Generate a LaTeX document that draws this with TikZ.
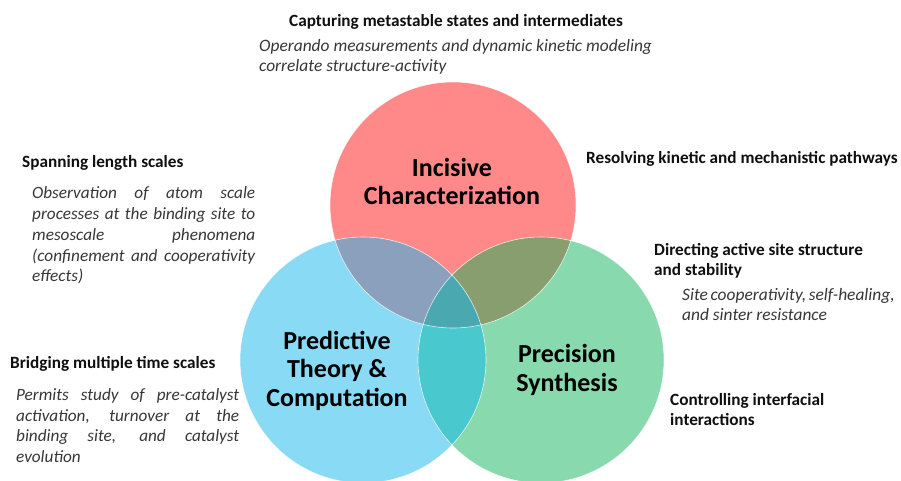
\documentclass[tikz,border=0pt]{standalone}
\usepackage{fontspec}
\setmainfont{Carlito}
\definecolor{cred}{RGB}{255,137,137}
\definecolor{cblue}{RGB}{137,218,245}
\definecolor{cgreen}{RGB}{137,217,174}
\definecolor{crb}{RGB}{138,160,188}
\definecolor{crg}{RGB}{137,158,110}
\definecolor{cbg}{RGB}{73,200,206}
\definecolor{crbg}{RGB}{73,168,176}
\definecolor{ctxt}{RGB}{15,15,15}
\definecolor{citl}{RGB}{55,55,55}
\newcommand{\jline}[1]{\makebox[223pt][s]{#1}}
\tikzset{
  head/.style={inner sep=0pt, font=\fontsize{17.2}{20}\selectfont\bfseries, text=ctxt, align=left},
  itl/.style={inner sep=0pt, font=\fontsize{17.4}{20}\selectfont\itshape, text=citl, align=left},
  itlone/.style={inner sep=0pt, font=\fontsize{17.4}{20}\selectfont\itshape, text=citl},
  para/.style={inner sep=0pt, font=\fontsize{17.2}{20.8}\selectfont\itshape, text=citl, align=left},
  big/.style={inner sep=0pt, font=\fontsize{26}{28.5}\selectfont\bfseries, text=black, align=center},
  ring/.style={draw=white, draw opacity=0.8, line width=0.6pt}
}
\begin{document}
\begin{tikzpicture}[x=1pt,y=-1pt]
\useasboundingbox (0,0) rectangle (901,480);
\fill[white] (0,0) rectangle (901,480);
\def\cR{(453,205) circle[radius=123pt]}
\def\cB{(363,360) circle[radius=123pt]}
\def\cG{(541,360) circle[radius=123pt]}
\begin{scope}
\clip (0,0) rectangle (901,480);
\fill[cred] \cR;
\fill[cblue] \cB;
\fill[cgreen] \cG;
\begin{scope}\clip \cR; \fill[crb] \cB; \end{scope}
\begin{scope}\clip \cR; \fill[crg] \cG; \end{scope}
\begin{scope}\clip \cB; \fill[cbg] \cG; \end{scope}
\begin{scope}\clip \cR; \clip \cB; \fill[crbg] \cG; \end{scope}
\draw[ring] \cR;
\draw[ring] \cB;
\draw[ring] \cG;
\end{scope}

\node[big, anchor=north] (ic) at (452,156) {\strut Incisive\\Characterization};
\node[big, anchor=north] (pt) at (337,329) {\strut Predictive\\Theory \&\\Computation};
\node[big, anchor=north] (ps) at (567,342.5) {\strut Precision\\Synthesis};

\node[head, anchor=base] (cap) at (456,26) {Capturing metastable states and intermediates};
\node[itl, anchor=north west] (op) at (259,37) {\strut Operando measurements and dynamic kinetic modeling\\correlate structure-activity};

\node[head, anchor=base west] (sp) at (22,167) {Spanning length scales};
\node[para, anchor=north west] (obs) at (32,184) {\strut\jline{Observation of atom scale}\\\jline{processes at the binding site to}\\\jline{mesoscale phenomena}\\\jline{(confinement and cooperativity}\\effects)};

\node[head, anchor=base west] (res) at (586,163) {Resolving kinetic and mechanistic pathways};
\node[head, anchor=north west] (dir) at (654,241) {\strut Directing active site structure\\and stability};
\node[itlone, anchor=base west] (site) at (682,300) {\hbox to 212pt{Site\hfil\ cooperativity,\hfil\ self-healing,}};
\node[itlone, anchor=base west] (site2) at (682,320) {and sinter resistance};

\node[head, anchor=base west] (br) at (10,368) {Bridging multiple time scales};
\node[para, anchor=north west] (perm) at (16,385.5) {\strut\jline{Permits study of pre-catalyst}\\\jline{activation, turnover at the}\\\jline{binding site, and catalyst}\\evolution};

\node[head, anchor=north west] (ctl) at (670,391) {\strut Controlling interfacial\\interactions};
\end{tikzpicture}
\end{document}
